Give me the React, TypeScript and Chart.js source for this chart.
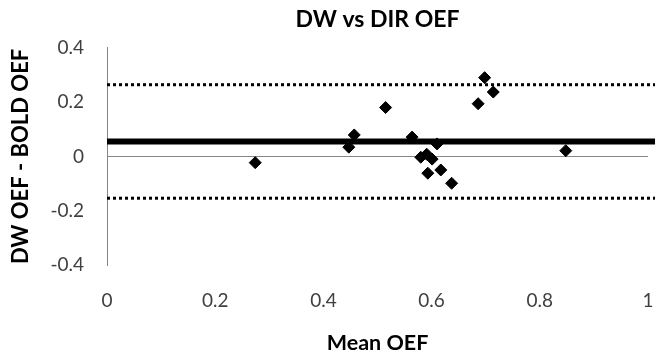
import React, { useEffect, useRef } from "react";
import { Chart, registerables } from "chart.js";

Chart.register(...registerables);

const meanOEF = [0.274, 0.447, 0.457, 0.515, 0.564, 0.58, 0.591, 0.601, 0.61, 0.593, 0.617, 0.637, 0.686, 0.698, 0.714, 0.848];
const diffOEF = [-0.023, 0.034, 0.079, 0.18, 0.071, -0.003, 0.008, -0.01, 0.046, -0.062, -0.05, -0.099, 0.194, 0.29, 0.237, 0.021];
const meanDiff = 0.055;
const upperLimit = 0.264;
const lowerLimit = -0.154;
const limitLineX = [0, 1.013];
const xRange = [0, 1];
const yRange = [-0.4, 0.4];
const tickStep = 0.2;

const FONT = "Lato, 'Open Sans', sans-serif";
const fmt = (v: any) => String(Math.round(Number(v) * 10) / 10);

export default function App() {
  const ref = useRef<HTMLCanvasElement | null>(null);

  useEffect(() => {
    if (!ref.current) return;
    const hline = (y: number, extra: any) => ({
      type: "line" as const,
      data: limitLineX.map((x) => ({ x, y })),
      pointRadius: 0,
      borderColor: "#000000",
      fill: false,
      showLine: true,
      clip: false,
      ...extra,
    });
    const chart = new Chart(ref.current, {
      type: "scatter",
      data: {
        datasets: [
          {
            label: "Difference",
            data: meanOEF.map((x, i) => ({ x, y: diffOEF[i] })),
            pointStyle: "rectRot",
            pointRadius: 6,
            borderWidth: 1,
            backgroundColor: "#000000",
            borderColor: "#000000",
          } as any,
          hline(meanDiff, { borderWidth: 6 }),
          hline(upperLimit, { borderWidth: 3, borderDash: [3, 3] }),
          hline(lowerLimit, { borderWidth: 3, borderDash: [3, 3] }),
        ],
      },
      options: {
        animation: false,
        responsive: false,
        devicePixelRatio: 1,
        layout: { padding: { left: 0, right: 18, top: 0, bottom: 0 } },
        plugins: {
          legend: { display: false },
          tooltip: { enabled: false },
          title: {
            display: true,
            fullSize: false,
            text: "DW vs DIR OEF",
            color: "#000000",
            font: { family: FONT, size: 23, weight: "bold", lineHeight: 1.2 },
            padding: { top: 6.2, bottom: 14 },
          },
        },
        scales: {
          x: {
            type: "linear",
            min: xRange[0],
            max: xRange[1],
            grid: { display: false, drawTicks: false },
            border: { display: false },
            ticks: {
              stepSize: tickStep,
              color: "#404040",
              padding: 24,
              font: { family: FONT, size: 19 },
              callback: fmt,
            },
            title: {
              display: true,
              text: "Mean OEF",
              color: "#000000",
              font: { family: FONT, size: 21.5, weight: "bold", lineHeight: 1.2 },
              padding: { top: 0, bottom: 2 },
            },
            afterFit: (s: any) => {
              s.height = 93;
              s.paddingRight = 0;
              s.paddingLeft = 0;
            },
          },
          y: {
            type: "linear",
            min: yRange[0],
            max: yRange[1],
            grid: {
              drawTicks: false,
              color: (ctx: any) => (ctx.tick && Math.abs(ctx.tick.value) < 1e-9 ? "#868686" : "rgba(0,0,0,0)"),
              lineWidth: 1,
            },
            border: { display: true, color: "#868686", width: 1 },
            ticks: {
              stepSize: tickStep,
              color: "#404040",
              padding: 23,
              font: { family: FONT, size: 19 },
              callback: fmt,
            },
            title: {
              display: true,
              text: "DW OEF - BOLD OEF",
              color: "#000000",
              font: { family: FONT, size: 22, weight: "bold", lineHeight: 1.2 },
              padding: { top: 8, bottom: 0 },
            },
            afterFit: (s: any) => {
              s.width = 107;
            },
          },
        },
      },
    });
    return () => chart.destroy();
  }, []);

  return (
    <div style={{ position: "absolute", left: 0, top: 0, width: 666, height: 358, background: "#ffffff" }}>
      <canvas ref={ref} width={666} height={358} style={{ display: "block" }} />
    </div>
  );
}
